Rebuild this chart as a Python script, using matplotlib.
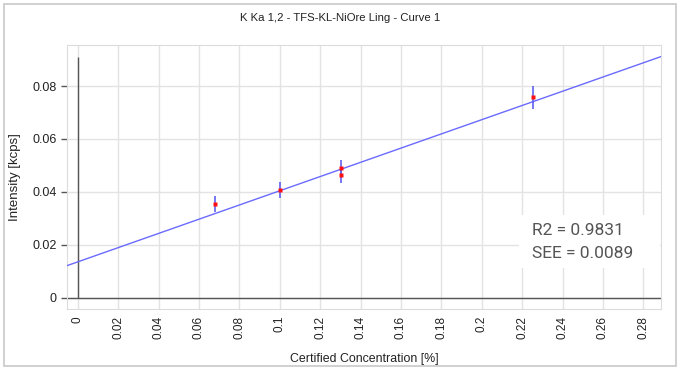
import matplotlib.pyplot as plt
from matplotlib.patches import Rectangle
import numpy as np

# calibration points
conc = [0.068, 0.100, 0.1305, 0.1305, 0.2255]
intensity = [0.0355, 0.0408, 0.0489, 0.0465, 0.0758]
err = [0.0030, 0.0030, 0.0030, 0.0030, 0.0043]

# regression line
intercept = 0.0135
slope = 0.269
axis_top = 0.091

x_ticks = [0, 0.02, 0.04, 0.06, 0.08, 0.1, 0.12, 0.14, 0.16, 0.18, 0.2, 0.22, 0.24, 0.26, 0.28]
x_tick_labels = ["0", "0.02", "0.04", "0.06", "0.08", "0.1", "0.12", "0.14", "0.16", "0.18",
                 "0.2", "0.22", "0.24", "0.26", "0.28"]
y_ticks = [0, 0.02, 0.04, 0.06, 0.08]
y_tick_labels = ["0", "0.02", "0.04", "0.06", "0.08"]

plt.rcParams["font.family"] = ["Liberation Sans", "DejaVu Sans"]

fig = plt.figure(figsize=(6.8, 3.7), dpi=100)
fig.patches.append(Rectangle((0.006, 0.012), 0.988, 0.976, transform=fig.transFigure,
                             fill=False, edgecolor="#c8c8c8", lw=1.2))
ax = fig.add_axes([0.0985, 0.165, 0.8735, 0.713])

ax.set_xlim(-0.0053, 0.2887)
ax.set_ylim(-0.0043, 0.0955)

ax.grid(True, color="#e3e3e3", lw=1)
ax.set_axisbelow(True)

ax.axhline(0, color="#555555", lw=1, zorder=2)
ax.vlines(0, 0, axis_top, color="#555555", lw=1, zorder=2)

ax.axline((0, intercept), slope=slope, color="#6a6aff", lw=1, zorder=3)
ax.errorbar(conc, intensity, yerr=err, fmt="none", ecolor="#6060f0", elinewidth=1.2, zorder=4)
ax.plot(conc, intensity, "s", color="#ff1010", ms=2.8, mec="none", zorder=5)

ax.set_xticks(x_ticks)
ax.set_xticklabels(x_tick_labels, rotation=90, fontsize=8.5, color="#222222")
ax.set_yticks(y_ticks)
ax.set_yticklabels(y_tick_labels, fontsize=9, color="#222222")
ax.tick_params(axis="x", length=0, pad=5)
ax.tick_params(axis="y", length=4, color="#555555", width=1)

for s in ax.spines.values():
    s.set_color("#dcdcdc")

ax.set_xlabel("Certified Concentration [%]", fontsize=8.9, color="#222222", labelpad=10)
ax.set_ylabel("Intensity [kcps]", fontsize=9.5, color="#222222", labelpad=8)
fig.text(0.5, 0.952, "K Ka 1,2 - TFS-KL-NiOre Ling - Curve 1", ha="center", va="center",
         fontsize=8.2, color="#222222")

# statistics box
fig.patches.append(Rectangle((0.763, 0.276), 0.208, 0.143, transform=fig.transFigure,
                             facecolor="white", edgecolor="none", zorder=10))
fig.text(0.782, 0.377, "R2 = 0.9831", fontsize=12.5, color="#555555", family="Roboto",
         va="center", zorder=11)
fig.text(0.782, 0.314, "SEE = 0.0089", fontsize=12.5, color="#555555", family="Roboto",
         va="center", zorder=11)

fig.savefig("out.png", dpi=100)
